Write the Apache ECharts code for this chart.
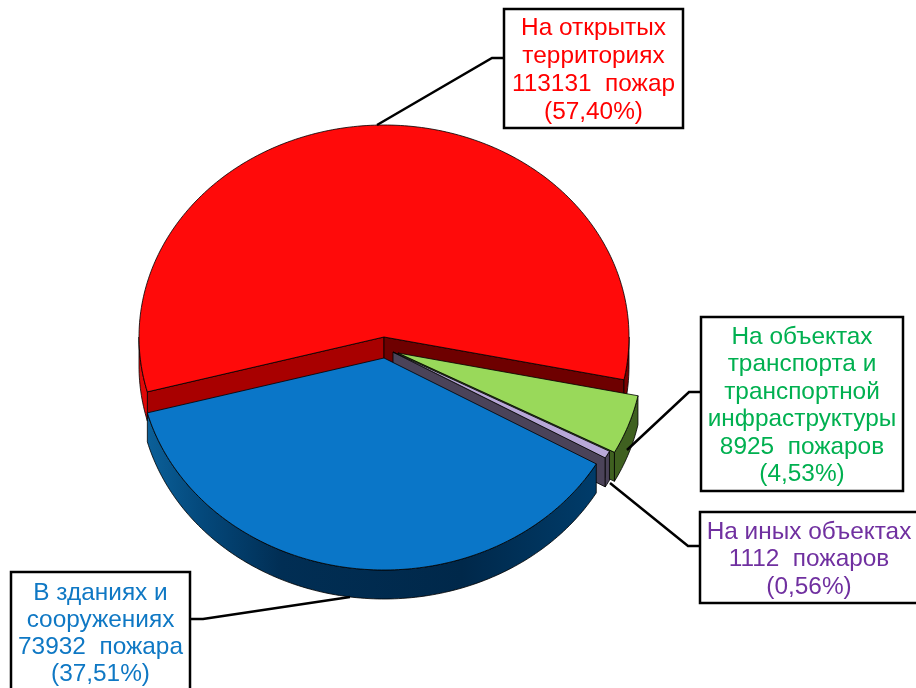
<!DOCTYPE html>
<html><head><meta charset="utf-8">
<style>html,body{margin:0;padding:0;background:#fff}#c{width:916px;height:688px}</style>
<script src="https://cdn.jsdelivr.net/npm/echarts@6/dist/echarts.min.js"></script>
</head><body><div id="c"></div>
<script>
// ---- data ----
const categories = ['На открытых\nтерриториях', 'На объектах\nтранспорта и\nтранспортной\nинфраструктуры', 'На иных объектах', 'В зданиях и\nсооружениях'];
const fires = [113131, 8925, 1112, 73932];
const units = ['пожар', 'пожаров', 'пожаров', 'пожара'];
const shares = ['57,40%', '4,53%', '0,56%', '37,51%'];

// ---- styling / layout (not data) ----
const RX = 245, RY = 212, DEPTH = 29, START = 165;
const centers = [[384,337],[398,353],[393,352],[384,358]];
const topColors = ['#ff0a0a','#99d95a','#b8a8d8','#0a76c8'];
const startWall = ['#a80000','#3f6020','#4b4359','#05508a'];
const endWall = ['#6e0000','#3f6020','#4b4359','#05508a'];
function grad(stops){
  return {type:'linear',x:0,y:0,x2:1,y2:0,colorStops:stops.map(([offset,color])=>({offset,color}))};
}
// fill of the curved wall, for the two possible front segments of a slice
const rimFills = [
  ['#e00808','#7a0000'],
  ['#3f6020','#3f6020'],
  ['#4b4359','#4b4359'],
  ['#05508a',grad([[0,'#0b6099'],[0.12,'#04497c'],[0.3,'#012e54'],[0.7,'#00284a'],[1,'#003c6a']])]
];
const textColors = ['#ff0000','#00b050','#7030a0','#0f78c4'];
const boxes = [[504,9,179,119],[701,317,202,174],[700,512,218,91],[11,572,179,120]];
const lineY = [28,27.5,27.5,27];
const textTop = [28,337,532,593];
const leaders = [
  [[504,58],[492,58],[377,125]],
  [[701,392],[689,392],[627,450]],
  [[700,546],[688,546],[610,483]],
  [[190,619],[203,619],[350,597]]
];

const total = fires.reduce((a,b)=>a+b,0);
function sliceAngles(i){
  let s = START;
  for(let k=0;k<i;k++) s += fires[k]/total*360;
  return [s, s + fires[i]/total*360];
}
function pt(c,deg,dy){
  const r = deg*Math.PI/180;
  return [c[0]+RX*Math.cos(r), c[1]+RY*Math.sin(r)+(dy||0)];
}
function arc(c,a,b,dy){
  const out=[], n=Math.max(2,Math.ceil(Math.abs(b-a)));
  for(let i=0;i<=n;i++) out.push(pt(c,a+(b-a)*i/n,dy));
  return out;
}
const strokeStyle = {stroke:'rgba(0,0,0,0.8)',lineWidth:1,lineJoin:'round'};
function poly(points,fill){
  return {type:'polygon',shape:{points},style:Object.assign({fill},strokeStyle)};
}
function renderSlice(params,api){
  const i = params.dataIndex;
  api.value(0);
  const c = centers[i], [a,b] = sliceAngles(i);
  const children=[];
  const apexDown=[c[0],c[1]+DEPTH];
  if(Math.cos(a*Math.PI/180)<0){
    const p=pt(c,a);
    children.push(poly([c,p,[p[0],p[1]+DEPTH],apexDown],startWall[i]));
  }
  if(Math.cos(b*Math.PI/180)>0){
    const p=pt(c,b);
    children.push(poly([c,p,[p[0],p[1]+DEPTH],apexDown],endWall[i]));
  }
  // outer curved wall: only the front half (0..180 deg, mod 360)
  [[0,180],[360,540]].forEach(([lo,hi],seg)=>{
    const s=Math.max(a,lo), e=Math.min(b,hi);
    if(e>s){
      const top=arc(c,s,e,0), bot=arc(c,s,e,DEPTH).reverse();
      children.push(poly(top.concat(bot),rimFills[i][seg]));
    }
  });
  children.push(poly([c].concat(arc(c,a,b,0)),topColors[i]));
  return {type:'group',children};
}

const graphic=[];
categories.forEach((name,i)=>{
  const [x,y,w,h]=boxes[i];
  graphic.push({type:'polyline',silent:true,z:5,shape:{points:leaders[i]},style:{stroke:'#000',lineWidth:2.5,fill:null}});
  graphic.push({type:'rect',silent:true,z:6,shape:{x,y,width:w,height:h},style:{fill:'#fff',stroke:'#000',lineWidth:2.5}});
  const text = name+'\n'+fires[i]+'  '+units[i]+'\n('+shares[i]+')';
  const cx = i===2 ? 809 : x+w/2;
  graphic.push({type:'text',silent:true,z:7,x:cx,y:textTop[i]-lineY[i]/2,style:{
    text,fill:textColors[i],font:'24.4px "Liberation Sans"',align:'center',verticalAlign:'top',lineHeight:lineY[i]
  }});
});

const chart = echarts.init(document.getElementById('c'),null,{renderer:'canvas'});
chart.setOption({
  animation:false,
  backgroundColor:'#fff',
  series:[{
    type:'custom',
    coordinateSystem:'none',
    silent:true,
    data:fires.map((v,i)=>({value:[v],name:categories[i]})),
    renderItem:renderSlice
  }],
  graphic
});
</script></body></html>
